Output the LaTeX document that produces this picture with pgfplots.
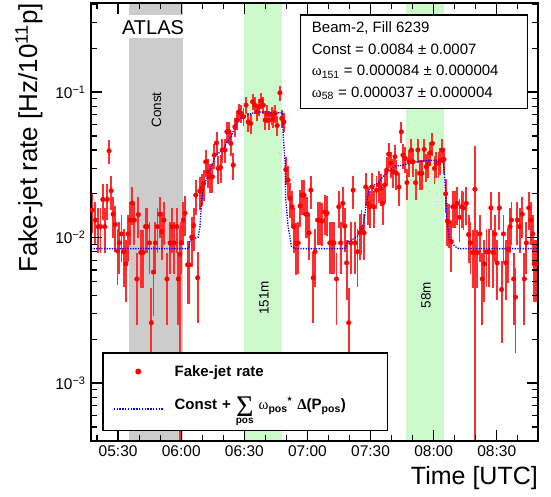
\documentclass[border=0pt]{standalone}
\usepackage{fontspec}
\setmainfont{Liberation Sans}
\newfontfamily\symfont{Liberation Serif}
\usepackage{pgfplots}
\usepackage{pgfplotstable}
\pgfplotsset{compat=1.18}

\definecolor{bandgray}{RGB}{204,204,204}
\definecolor{bandgreen}{RGB}{204,250,204}
\definecolor{barred}{RGB}{255,45,45}

% time in minutes after 05:00, rate, error up, error down
\pgfplotstableread{
x y ep em
17.7 0.0155 0.0047 0.0047
19.2 0.0132 0.0043 0.0043
20.5 0.0119 0.0040 0.0040
21.6 0.0119 0.0040 0.0040
22.7 0.0183 0.0050 0.0050
23.7 0.0119 0.0040 0.0040
24.8 0.0183 0.0050 0.0050
25.7 0.0395 0.0075 0.0075
26.7 0.0210 0.0054 0.0054
27.6 0.0145 0.0045 0.0045
28.7 0.0123 0.0043 0.0043
29.7 0.0081 0.0034 0.0034
30.6 0.0092 0.0036 0.0036
31.6 0.0106 0.0038 0.0038
32.7 0.0080 0.0034 0.0034
33.7 0.0066 0.0030 0.0030
34.7 0.0106 0.0038 0.0038
35.8 0.0132 0.0043 0.0043
36.8 0.0173 0.0050 0.0050
37.7 0.0132 0.0043 0.0043
38.9 0.0052 0.0027 0.0027
39.6 0.0144 0.0045 0.0045
40.8 0.0079 0.0034 0.0034
41.9 0.0079 0.0034 0.0034
43.0 0.0119 0.0040 0.0040
43.8 0.0119 0.0040 0.0040
44.9 0.0092 0.0036 0.0036
45.8 0.0026 0.0019 0.0019
46.8 0.0058 0.0029 0.0029
47.7 0.0092 0.0036 0.0036
48.7 0.0119 0.0040 0.0040
49.8 0.0145 0.0045 0.0045
50.7 0.0110 0.0040 0.0040
51.8 0.0132 0.0043 0.0043
53.2 0.0052 0.0027 0.0027
54.7 0.0092 0.0036 0.0036
55.8 0.0119 0.0040 0.0040
56.7 0.0092 0.0036 0.0036
57.9 0.0119 0.0040 0.0040
58.6 0.0052 0.0027 0.0027
59.4 0.0077 0.0040 0.00769
60.0 0.0092 0.0036 0.0036
61.0 0.0132 0.0043 0.0043
61.8 0.0147 0.0045 0.0045
63.0 0.0065 0.0030 0.0030
63.8 0.0065 0.0030 0.0030
65.0 0.0101 0.0038 0.0038
65.9 0.0121 0.0040 0.0040
66.9 0.0196 0.0053 0.0053
67.8 0.0053 0.0027 0.0027
68.8 0.0209 0.0054 0.0054
69.7 0.0218 0.0054 0.0054
70.7 0.0236 0.0057 0.0057
71.6 0.0332 0.0070 0.0070
72.6 0.0284 0.0064 0.0064
73.7 0.0262 0.0060 0.0060
74.8 0.0262 0.0060 0.0060
75.7 0.0369 0.0072 0.0072
76.8 0.0448 0.0080 0.0080
77.6 0.0299 0.0064 0.0064
78.7 0.0304 0.0066 0.0066
79.5 0.0400 0.0075 0.0075
80.8 0.0400 0.0075 0.0075
81.7 0.0534 0.0087 0.0087
82.7 0.0534 0.0087 0.0087
83.6 0.0444 0.0080 0.0080
84.7 0.0315 0.0066 0.0066
85.5 0.0578 0.0090 0.0090
86.6 0.0642 0.0096 0.0096
87.4 0.0732 0.0100 0.0100
88.4 0.0714 0.0100 0.0100
89.6 0.0677 0.0096 0.0096
90.8 0.0814 0.0106 0.0106
91.8 0.0625 0.0093 0.0093
93.0 0.0610 0.0093 0.0093
93.9 0.0858 0.0110 0.0110
95.0 0.0814 0.0106 0.0106
96.1 0.0732 0.0100 0.0100
97.0 0.0793 0.0106 0.0106
98.0 0.0872 0.0110 0.0110
99.0 0.0814 0.0106 0.0106
99.9 0.0642 0.0096 0.0096
100.9 0.0714 0.0100 0.0100
101.8 0.0642 0.0096 0.0096
103.0 0.0695 0.0100 0.0100
103.7 0.0660 0.0096 0.0096
104.7 0.0714 0.0100 0.0100
105.6 0.0590 0.0093 0.0093
106.9 0.0990 0.0118 0.0118
107.8 0.0660 0.0096 0.0096
108.8 0.0625 0.0093 0.0093
109.7 0.0294 0.0064 0.0064
110.8 0.0249 0.0060 0.0060
111.6 0.0186 0.0050 0.0050
112.7 0.0163 0.0047 0.0047
113.5 0.0119 0.0040 0.0040
114.5 0.0091 0.0036 0.0036
115.6 0.0092 0.0036 0.0036
116.5 0.0165 0.0047 0.0047
117.5 0.0196 0.0053 0.0053
118.4 0.0196 0.0053 0.0053
119.2 0.0145 0.0045 0.0045
120.0 0.0145 0.0045 0.0045
120.8 0.0108 0.0038 0.0038
121.6 0.0212 0.0054 0.0054
122.7 0.0053 0.0027 0.0027
123.6 0.0080 0.0034 0.0034
124.8 0.0132 0.0043 0.0043
125.9 0.0132 0.0043 0.0043
127.0 0.0130 0.0043 0.0043
128.2 0.0150 0.0045 0.0045
129.3 0.0147 0.0045 0.0045
130.6 0.0092 0.0036 0.0036
131.7 0.0092 0.0036 0.0036
132.6 0.0092 0.0036 0.0036
133.8 0.0052 0.0027 0.0027
134.9 0.0163 0.0047 0.0047
135.8 0.0092 0.0036 0.0036
136.8 0.0172 0.0050 0.0050
137.7 0.0120 0.0040 0.0040
138.6 0.0067 0.0030 0.0030
139.6 0.0026 0.0019 0.0019
140.6 0.0092 0.0036 0.0036
141.7 0.0212 0.0054 0.0054
142.8 0.0092 0.0036 0.0036
143.8 0.0080 0.0034 0.0034
144.9 0.0108 0.0038 0.0038
145.7 0.0116 0.0040 0.0040
146.9 0.0108 0.0038 0.0038
147.7 0.0223 0.0057 0.0057
148.8 0.0172 0.0050 0.0050
149.6 0.0163 0.0047 0.0047
150.7 0.0223 0.0057 0.0057
151.6 0.0163 0.0047 0.0047
152.8 0.0212 0.0054 0.0054
153.9 0.0230 0.0057 0.0057
154.8 0.0218 0.0054 0.0054
155.8 0.0172 0.0050 0.0050
156.7 0.0230 0.0057 0.0057
157.7 0.0292 0.0064 0.0064
158.6 0.0375 0.0072 0.0072
159.6 0.0324 0.0066 0.0066
160.7 0.0284 0.0064 0.0064
161.6 0.0360 0.0072 0.0072
162.3 0.0277 0.0064 0.0064
163.5 0.0223 0.0057 0.0057
164.6 0.0534 0.0087 0.0087
165.4 0.0369 0.0072 0.0072
166.5 0.0350 0.0070 0.0070
167.3 0.0239 0.0057 0.0057
168.3 0.0332 0.0070 0.0070
169.4 0.0400 0.0075 0.0075
170.1 0.0332 0.0070 0.0070
171.4 0.0239 0.0057 0.0057
172.5 0.0400 0.0075 0.0075
173.3 0.0277 0.0064 0.0064
174.4 0.0277 0.0064 0.0064
175.5 0.0404 0.0075 0.0075
176.5 0.0307 0.0066 0.0066
177.4 0.0324 0.0066 0.0066
178.4 0.0383 0.0072 0.0072
179.4 0.0444 0.0080 0.0080
180.4 0.0299 0.0064 0.0064
181.2 0.0324 0.0066 0.0066
182.3 0.0324 0.0066 0.0066
183.1 0.0341 0.0070 0.0070
184.1 0.0400 0.0075 0.0075
184.9 0.0345 0.0070 0.0070
185.7 0.0200 0.0053 0.0053
186.5 0.0130 0.0043 0.0043
187.2 0.0128 0.0043 0.0043
188.4 0.0094 0.0036 0.0036
189.1 0.0163 0.0047 0.0047
190.3 0.0163 0.0047 0.0047
191.2 0.0172 0.0050 0.0050
192.3 0.0138 0.0045 0.0045
193.3 0.0163 0.0047 0.0047
194.2 0.0160 0.0047 0.0047
195.5 0.0172 0.0050 0.0050
196.6 0.0105 0.0038 0.0038
197.5 0.0092 0.0036 0.0036
198.6 0.0079 0.0034 0.0034
199.6 0.0215 0.0210 0.02149
200.7 0.0079 0.0034 0.0034
202.0 0.0106 0.0038 0.0038
203.1 0.0052 0.0027 0.0027
204.1 0.0066 0.0030 0.0030
205.1 0.0080 0.0034 0.0034
206.2 0.0080 0.0034 0.0034
207.2 0.0160 0.0047 0.0047
208.3 0.0079 0.0034 0.0034
209.1 0.0106 0.0038 0.0038
210.2 0.0067 0.0030 0.0030
211.2 0.0160 0.0047 0.0047
212.3 0.0044 0.0025 0.0025
213.2 0.0106 0.0038 0.0038
214.3 0.0067 0.0030 0.0030
215.4 0.0083 0.0034 0.0034
216.3 0.0119 0.0040 0.0040
217.0 0.0132 0.0043 0.0043
218.0 0.0052 0.0027 0.0027
218.9 0.0039 0.0023 0.0023
219.8 0.0132 0.0043 0.0043
220.9 0.0119 0.0040 0.0040
222.1 0.0145 0.0045 0.0045
223.1 0.0052 0.0027 0.0027
224.1 0.0092 0.0036 0.0036
225.2 0.0160 0.0047 0.0047
226.2 0.0132 0.0043 0.0043
227.1 0.0106 0.0038 0.0038
227.8 0.0066 0.0030 0.0030
228.7 0.0066 0.0030 0.0030
}\ratetab

\begin{document}
\begin{tikzpicture}
\useasboundingbox (0pt,0pt) rectangle (551pt,497pt);

\begin{axis}[
    at={(91pt,56pt)}, anchor=south west,
    scale only axis, width=447pt, height=438pt,
    ymode=log,
    xmin=17.1, xmax=229.6, ymin=4e-4, ymax=0.41,
    axis on top,
    axis line style={line width=2pt},
    every tick/.style={black, line width=1.3pt},
    major tick length=11pt, minor tick length=6pt,
    xtick={30,60,...,210},
    xticklabels={05:30,06:00,06:30,07:00,07:30,08:00,08:30},
    minor xtick={20,40,50,70,80,100,110,130,140,160,170,190,200,220},
    ytick={1e-3,1e-2,1e-1},
    yticklabels={10\textsuperscript{−3},10\textsuperscript{−2},10\textsuperscript{−1}},
    minor ytick={5e-4,6e-4,7e-4,8e-4,9e-4,2e-3,3e-3,4e-3,5e-3,6e-3,7e-3,8e-3,9e-3,
                 2e-2,3e-2,4e-2,5e-2,6e-2,7e-2,8e-2,9e-2,2e-1,3e-1,4e-1},
    ticklabel style={font=\fontsize{15.5}{18}\selectfont},
    xticklabel style={yshift=-1pt},
    yticklabel style={xshift=-2pt},
    legend style={at={(0.0253,0.2025)}, anchor=north west, draw=black,
        line width=1.2pt, fill=white, inner xsep=10pt, inner ysep=8pt,
        row sep=5.5pt, font=\fontsize{15}{18}\selectfont\bfseries,
        nodes={inner xsep=0pt, inner ysep=0pt, text height=15.4pt,
               text depth=12.7pt, text width=203pt, align=left},
        /tikz/every odd column/.append style={column sep=11pt}},
]

% bands
\fill[bandgray] (axis cs:35.1,4e-4) rectangle (axis cs:60.6,0.41);
\fill[white] (axis cs:35.1,0.235) rectangle (axis cs:60.6,0.338);
\fill[bandgreen] (axis cs:89.9,4e-4) rectangle (axis cs:107.7,0.41);
\fill[bandgreen] (axis cs:166.9,4e-4) rectangle (axis cs:184.8,0.41);

% measured rate
\addplot[color=red, only marks, mark=*, mark size=2.3pt,
    mark options={fill=red, draw=red},
    legend image code/.code={\path[draw=none] (0pt,0pt) (49pt,0pt);
        \path[draw=none, mark=*, mark size=2.3pt, mark options={fill=red, draw=red}]
            plot[only marks] coordinates {(24.5pt,3.4pt)};},
    error bars/.cd, y dir=both, y explicit,
    error bar style={color=barred, line width=1.9pt}, error mark=none]
    table[x=x, y=y, y error plus=ep, y error minus=em] {\ratetab};
\addlegendentry{Fake-jet rate}

% fit
\addplot[blue, line width=1.3pt, dash pattern=on 1.3pt off 1.3pt,
    legend image code/.code={\draw[draw=blue, line width=1.7pt,
        dash pattern=on 1.5pt off 1.3pt] (0pt,-0.7pt) -- (49pt,-0.7pt);}]
    coordinates {
    (17.1,0.0084) (63.6,0.0084) (64.2,0.0096) (68.1,0.0101) (68.9,0.0119)
    (69.7,0.018) (70.8,0.023) (73.7,0.029) (76,0.036) (80,0.041) (84,0.0506)
    (85.5,0.058) (88,0.066) (91.1,0.0695) (95.8,0.0732) (108.2,0.072)
    (108.5,0.049) (109.3,0.034) (109.6,0.019) (110.8,0.0119) (112.4,0.0087)
    (114,0.0084) (137.7,0.0084) (138.5,0.0089) (139.3,0.0094) (142.5,0.0099)
    (145.7,0.0108) (147.2,0.0139) (148,0.0172) (149.6,0.0223) (153.5,0.0236)
    (155.9,0.0262) (159.1,0.029) (161.5,0.0309) (165.4,0.0315) (171.7,0.0332)
    (178,0.034) (184.4,0.034) (184.9,0.03) (185.7,0.020) (186.3,0.0132)
    (187.6,0.0094) (190.7,0.0086) (192,0.0084) (229.6,0.0084)};
\addlegendentry{Const + $\mathop{\vcenter{\hbox{\symfont\mdseries\fontsize{30}{30}\selectfont Σ}}}\limits_{\mbox{\fontsize{10}{10}\selectfont\bfseries pos}}$ {\symfont\mdseries ω}\textsubscript{pos}\textsuperscript{*} {\symfont Δ}(P\textsubscript{pos})}

\end{axis}

% band labels
\node[anchor=base, font=\fontsize{20}{22}\selectfont] at (153pt,462pt) {ATLAS};
\node[rotate=90, font=\fontsize{13.5}{15}\selectfont] at (156.5pt,387pt) {Const};
\node[rotate=90, font=\fontsize{13.5}{15}\selectfont] at (264pt,199pt) {151m};
\node[rotate=90, font=\fontsize{13.5}{15}\selectfont] at (426pt,202pt) {58m};

% info box
\draw[line width=1.2pt, fill=white] (300.7pt,482pt) rectangle (527.7pt,388.3pt);
\begin{scope}[every node/.style={anchor=base west, inner sep=0pt, font=\fontsize{15}{18}\selectfont}]
\node at (311.7pt,464.6pt) {Beam-2, Fill 6239};
\node at (311.7pt,442.9pt) {Const = 0.0084 ± 0.0007};
\node at (311.7pt,421.2pt) {{\symfont ω}\textsubscript{151} = 0.000084 ± 0.000004};
\node at (311.7pt,399.5pt) {{\symfont ω}\textsubscript{58} = 0.000037 ± 0.000004};
\end{scope}

% axis titles
\node[anchor=base east, inner sep=0pt, font=\fontsize{25}{28}\selectfont] at (538pt,12pt) {Time [UTC]};
\node[rotate=90, anchor=base east, inner sep=0pt, font=\fontsize{26}{30}\selectfont] at (37pt,494pt) {Fake-jet rate [Hz/10\textsuperscript{11}p]};
\end{tikzpicture}
\end{document}
